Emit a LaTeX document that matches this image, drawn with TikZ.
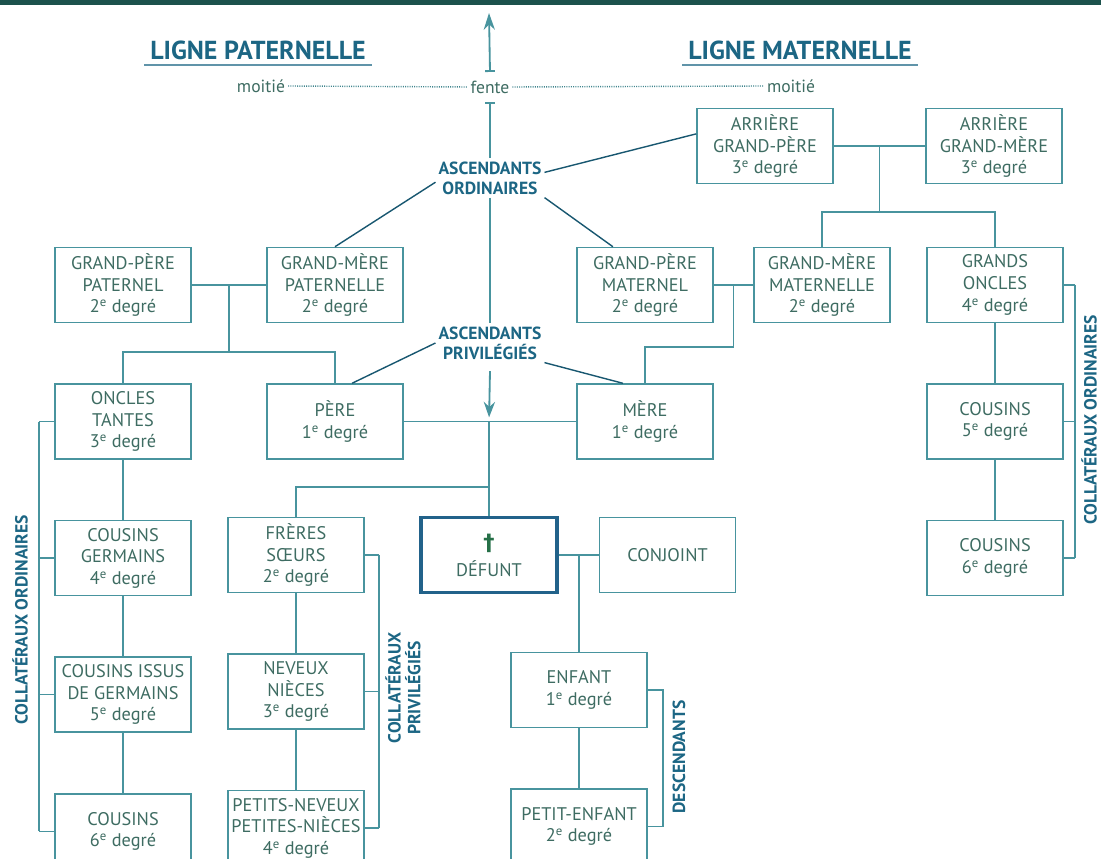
\documentclass[tikz,border=0pt]{standalone}
\usepackage{fontspec}
\setmainfont{PT Sans}
\newfontfamily\symfont{DejaVu Sans}
\usepackage{xcolor}
\definecolor{tealline}{RGB}{72,148,158}
\definecolor{boxtext}{RGB}{62,108,98}
\definecolor{labelblue}{RGB}{28,102,132}
\definecolor{topband}{RGB}{28,82,76}
\definecolor{crossgreen}{RGB}{38,112,72}
\definecolor{defuntblue}{RGB}{34,98,138}
\usetikzlibrary{positioning,arrows.meta,calc}
\tikzset{
  relbox/.style={
    rectangle, draw=tealline, line width=1.1pt, fill=white, align=center,
    minimum width=3.4cm, minimum height=1.875cm, inner sep=1pt,
    text=boxtext, font=\fontsize{13}{15.4}\selectfont
  },
  deadbox/.style={relbox, draw=defuntblue, line width=2.4pt},
  grouplabel/.style={
    align=center, text=labelblue, inner sep=2pt,
    font=\fontsize{12.5}{14.4}\selectfont\bfseries
  },
  sidelabel/.style={grouplabel, rotate=90, font=\fontsize{12.5}{14}\selectfont\bfseries},
  lignelabel/.style={text=labelblue, inner sep=4pt, font=\fontsize{18.5}{20}\selectfont\bfseries},
  halflabel/.style={text=boxtext, inner sep=2pt, font=\fontsize{12.5}{14}\selectfont},
  link/.style={draw=tealline, line width=1.3pt},
  slant/.style={draw=labelblue!85!black, line width=1pt},
  bracket/.style={draw=tealline, line width=1pt},
  flow/.style={link, -{Stealth[length=11pt,width=8pt]}},
  upflow/.style={link, {Bar[width=7pt]}-{Stealth[length=12pt,width=8pt]}},
  barline/.style={link, {Bar[width=7pt]}-},
  dotline/.style={draw=tealline!90!black, line width=1pt, dash pattern=on 0.7pt off 0.9pt},
  underl/.style={draw=labelblue!70, line width=1.6pt},
}
\newcommand{\degre}[1]{#1\textsuperscript{e}~degré}

\begin{document}
\begin{tikzpicture}[x=0.025cm, y=-0.025cm, node distance=1.5cm and 1.0cm]
  \path[use as bounding box, clip] (0,0) rectangle (1101,859);
  \fill[topband] (0,0) rectangle (1101,5);

  % the two lines of the family
  \node[lignelabel] (pat) at (258,50) {LIGNE PATERNELLE};
  \node[lignelabel] (mat) at (800,50) {LIGNE MATERNELLE};
  \draw[underl] (pat.south west) -- (pat.south east);
  \draw[underl] (mat.south west) -- (mat.south east);
  \node[halflabel] (halfP) at (261,86) {moitié};
  \node[halflabel] (fente) at (490,87) {fente};
  \node[halflabel] (halfM) at (791,86) {moitié};
  \draw[dotline] (halfP.east) -- (fente.west);
  \draw[dotline] (fente.east) -- (halfM.west);
  \coordinate (sky) at (489,13);
  \draw[upflow] ([yshift=4pt]fente.north) -- (sky);

  \node[grouplabel] (ascord) at (490,178) {ASCENDANTS\\ORDINAIRES};
  \node[grouplabel] (ascpriv) at (490,343) {ASCENDANTS\\PRIVILÉGIÉS};
  \draw[barline] ([yshift=-4pt]fente.south) -- (ascord.north);
  \draw[link] (ascord.south) -- (ascpriv.north);

  % ascendants
  \node[relbox] (agp) at (765,146) {ARRIÈRE\\GRAND-PÈRE\\\degre{3}};
  \node[relbox] (agm) at (994,146) {ARRIÈRE\\GRAND-MÈRE\\\degre{3}};
  \node[relbox] (gpp) at (123,285) {GRAND-PÈRE\\PATERNEL\\\degre{2}};
  \node[relbox] (gmp) at (335,285) {GRAND-MÈRE\\PATERNELLE\\\degre{2}};
  \node[relbox] (gpmat) at (645,285) {GRAND-PÈRE\\MATERNEL\\\degre{2}};
  \node[relbox] (gmmat) at (822,285) {GRAND-MÈRE\\MATERNELLE\\\degre{2}};
  \node[relbox, below=of gmp] (pere) {PÈRE\\\degre{1}};
  \node[relbox, below=of gpmat] (mere) {MÈRE\\\degre{1}};

  % collateraux ordinaires, left
  \node[relbox, below=of gpp] (oncles) {ONCLES\\TANTES\\\degre{3}};
  \node[relbox, below=of oncles] (cousg) {COUSINS\\GERMAINS\\\degre{4}};
  \node[relbox, below=of cousg] (issus) {COUSINS ISSUS\\DE GERMAINS\\\degre{5}};
  \node[relbox, below=of issus] (cous6l) {COUSINS\\\degre{6}};

  % collateraux ordinaires, right
  \node[relbox] (gonc) at (995,285) {GRANDS\\ONCLES\\\degre{4}};
  \node[relbox, below=of gonc] (cous5) {COUSINS\\\degre{5}};
  \node[relbox, below=of cous5] (cous6r) {COUSINS\\\degre{6}};

  % collateraux privilegies
  \node[relbox] (freres) at (296,555) {FRÈRES\\SŒURS\\\degre{2}};
  \node[relbox, below=of freres] (neveux) {NEVEUX\\NIÈCES\\\degre{3}};
  \node[relbox, below=of neveux] (petits) {PETITS-NEVEUX\\PETITES-NIÈCES\\\degre{4}};

  % defunt and descendants
  \node[deadbox] (defunt) at (489,555) {{\symfont\bfseries\fontsize{16}{16}\selectfont\textcolor{crossgreen}{†}}\\[3pt]DÉFUNT};
  \node[relbox, right=1.0cm of defunt] (conjoint) {CONJOINT};
  \node[relbox] (enfant) at (579,690) {ENFANT\\\degre{1}};
  \node[relbox, below=of enfant] (petitenf) {PETIT-ENFANT\\\degre{2}};

  % couples
  \draw[link] (agp.east) -- (agm.west);
  \coordinate (agg) at ($(agp.east)!0.5!(agm.west)$);
  \draw[link] (agg) -- ++(0,66);
  \draw[link] (gmmat.north) -- ++(0,-35) -| (gonc.north);

  \draw[link] (gpp.east) -- (gmp.west);
  \coordinate (pgp) at ($(gpp.east)!0.5!(gmp.west)$);
  \coordinate (pbar) at ($(pgp)+(0,67)$);
  \draw[link] (pgp) -- (pbar);
  \draw[link] (oncles.north) |- (pbar) -| (pere.north);

  \draw[link] (gpmat.east) -- (gmmat.west);
  \coordinate (mgp) at ($(gpmat.east)!0.5!(gmmat.west)$);
  \draw[link] (mgp) -- ++(0,62) -| (mere.north);

  \coordinate (pm) at (pere.east -| defunt.north);
  \coordinate (sib) at (489,487);
  \draw[link] (pere.east) -- (mere.west);
  \draw[link] (pm) -- (defunt.north);
  \draw[link] (freres.north) |- (sib);
  \draw[link] (defunt.east) -- (conjoint.west);
  \draw[link] (enfant.north |- defunt.east) -- (enfant.north);

  % columns
  \foreach \a/\b in {oncles/cousg, cousg/issus, issus/cous6l, freres/neveux,
      neveux/petits, enfant/petitenf, gonc/cous5, cous5/cous6r}
    \draw[link] (\a) -- (\b);

  % slanted links from the group labels
  \draw[slant] ([yshift=4pt]ascord.east) -- (agp.170);
  \draw[slant] ([yshift=-3pt]ascord.west) -- (gmp.north);
  \draw[slant] (ascord.south east) -- (gpmat.130);
  \draw[slant] (ascpriv.west) -- (pere.66);
  \draw[slant] (ascpriv.south east) -- (mere.120);
  \draw[flow, shorten >=3pt] ([yshift=-6pt]ascpriv.south) -- (pm);

  % brackets
  \coordinate (lbar) at (39,0);
  \coordinate (mbar) at (379,0);
  \coordinate (dbar) at (663,0);
  \coordinate (rbar) at (1075,0);
  \draw[bracket] (oncles.west -| lbar) -- (cous6l.west -| lbar);
  \foreach \b in {oncles, cousg, issus, cous6l}
    \draw[bracket] (\b.west) -- (\b.west -| lbar);
  \draw[bracket] (freres.east -| mbar) -- (petits.east -| mbar);
  \foreach \b in {freres, neveux, petits}
    \draw[bracket] (\b.east) -- (\b.east -| mbar);
  \draw[bracket] (enfant.east) -| (dbar |- petitenf.east) -- (petitenf.east);
  \draw[bracket] (gonc.east -| rbar) -- (cous6r.east -| rbar);
  \foreach \b in {gonc, cous5, cous6r}
    \draw[bracket] (\b.east) -- (\b.east -| rbar);

  \node[sidelabel] (collordL) at (20,620) {COLLATÉRAUX ORDINAIRES};
  \node[sidelabel] (collpriv) at (403,688) {COLLATÉRAUX\\PRIVILÉGIÉS};
  \node[sidelabel] (descend) at (679,757) {DESCENDANTS};
  \node[sidelabel] (collordR) at (1089,420) {COLLATÉRAUX ORDINAIRES};
\end{tikzpicture}
\end{document}
